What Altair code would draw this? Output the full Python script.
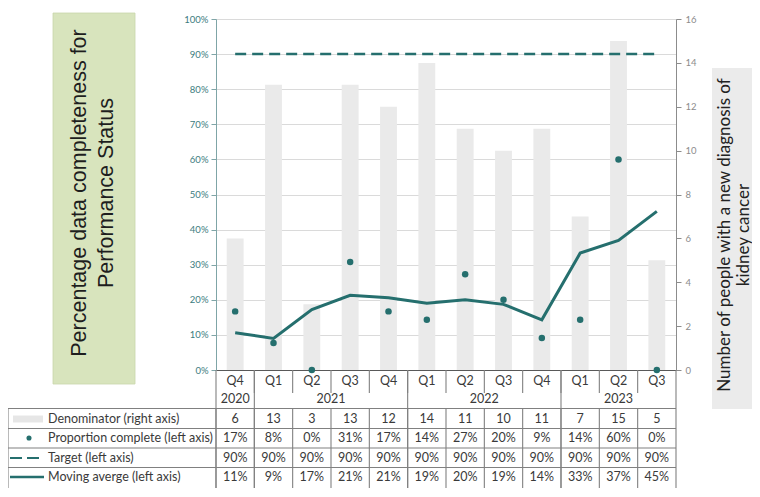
import altair as alt
import pandas as pd

# ---------------- data ----------------
quarters = ["Q4", "Q1", "Q2", "Q3", "Q4", "Q1", "Q2", "Q3", "Q4", "Q1", "Q2", "Q3"]
years = ["2020", "2021", "2021", "2021", "2021", "2022", "2022", "2022", "2022", "2023", "2023", "2023"]
denominator = [6, 13, 3, 13, 12, 14, 11, 10, 11, 7, 15, 5]
proportion = [0.167, 0.077, 0.0, 0.308, 0.167, 0.143, 0.273, 0.200, 0.091, 0.143, 0.600, 0.0]
target = [0.9, 0.9, 0.9, 0.9, 0.9, 0.9, 0.9, 0.9, 0.9, 0.9, 0.9, 0.9]
moving_avg = [0.106, 0.090, 0.172, 0.213, 0.206, 0.190, 0.200, 0.187, 0.143, 0.333, 0.369, 0.452]
row_labels = ["Denominator (right axis)", "Proportion complete (left axis)",
              "Target (left axis)", "Moving averge (left axis)"]
left_title = ["Percentage data completeness for", "Performance Status"]
right_title = ["Number of people with a new diagnosis of", "kidney cancer"]

keys = [f"{y} {q}" for y, q in zip(years, quarters)]
df = pd.DataFrame({"key": keys, "quarter": quarters, "year": years,
                   "denom": denominator, "prop": proportion,
                   "target": target, "mavg": moving_avg})

# year label anchors (centre of each year's span)
year_odd, year_even = [], []
for yv in dict.fromkeys(years):
    idxs = [i for i, v in enumerate(years) if v == yv]
    n = len(idxs)
    if n % 2 == 1:
        year_odd.append({"key": keys[idxs[n // 2]], "year": yv})
    else:
        year_even.append({"key": keys[idxs[n // 2]], "year": yv})
year_odd = pd.DataFrame(year_odd)
year_even = pd.DataFrame(year_even)
year_bounds = pd.DataFrame({"key": [keys[i] for i in range(1, len(keys)) if years[i] != years[i - 1]]})
all_bounds = pd.DataFrame({"key": keys})
inner_bounds = pd.DataFrame({"key": keys[1:]})
last_key = pd.DataFrame({"key": [keys[-1]]})
first_key = pd.DataFrame({"key": [keys[0]]})
dummy = pd.DataFrame({"d": [0]})

# ---------------- style ----------------
TEAL = "#256f6e"
FONT = "Lato"
TXT = "#3a3a3a"
LINEC = "#808080"
W, H = 460, 351

xscale = alt.Scale(domain=keys, paddingInner=0, paddingOuter=0)
xaxis = alt.Axis(labels=False, ticks=False, title=None, grid=False,
                 domainColor="#595959", domainWidth=1.2)


def X(bp=None):
    if bp is None:
        return alt.X("key:N", scale=xscale, axis=xaxis)
    return alt.X("key:N", scale=xscale, axis=xaxis, bandPosition=bp)


pct_scale = alt.Scale(domain=[0, 1], nice=False)
left_axis = alt.Axis(orient="left", format=".0%", values=[i / 10 for i in range(11)],
                     grid=True, gridColor="#dadada", gridWidth=1,
                     domainColor="#7fa5a7", tickColor="#7fa5a7", tickSize=5,
                     labelColor="#3d7c80", labelFontSize=9.5, labelFont=FONT,
                     labelPadding=3, title=None)
right_axis = alt.Axis(orient="right", values=list(range(0, 17, 2)), grid=False,
                      domainColor="#8c8c8c", tickColor="#8c8c8c", tickSize=5,
                      labelColor="#8c8c8c", labelFontSize=9.5, labelFont=FONT,
                      labelPadding=4, title=None)

# ---------------- main plot ----------------
bars = alt.Chart(df).mark_bar(color="#eaeaea", width={"band": 0.44}).encode(
    x=X(),
    y=alt.Y("denom:Q", scale=alt.Scale(domain=[0, 16], nice=False), axis=right_axis),
)

target_line = alt.Chart(df).mark_line(color=TEAL, strokeWidth=2.5, strokeDash=[11, 6]).encode(
    x=X(), y=alt.Y("target:Q", scale=pct_scale, axis=left_axis))
mavg_line = alt.Chart(df).mark_line(color=TEAL, strokeWidth=3).encode(
    x=X(), y=alt.Y("mavg:Q", scale=pct_scale, axis=left_axis))
points = alt.Chart(df).mark_circle(color=TEAL, size=42, opacity=1).encode(
    x=X(), y=alt.Y("prop:Q", scale=pct_scale, axis=left_axis))
pct = alt.layer(target_line, mavg_line, points)

# ---------------- table / category labels ----------------
Q_Y, YEAR_Y = 362, 380
ROW_LINES = [389.5, 409.5, 429, 448.5]
ROW_END = 469
ROW_TEXT = [400, 419, 439, 458]
LEFT_X = -208

txt = dict(font=FONT, fontSize=12.5, color=TXT, baseline="middle", align="center")

q_text = alt.Chart(df).mark_text(**txt).encode(x=X(), y=alt.value(Q_Y), text="quarter:N")
yr_odd = alt.Chart(year_odd).mark_text(**txt).encode(x=X(), y=alt.value(YEAR_Y), text="year:N")
yr_even = alt.Chart(year_even).mark_text(**txt).encode(x=X(0), y=alt.value(YEAR_Y), text="year:N")

den_text = alt.Chart(df).mark_text(**txt).encode(x=X(), y=alt.value(ROW_TEXT[0]),
                                                 text=alt.Text("denom:Q", format="d"))
prop_text = alt.Chart(df).mark_text(**txt).encode(x=X(), y=alt.value(ROW_TEXT[1]),
                                                  text=alt.Text("prop:Q", format=".0%"))
tgt_text = alt.Chart(df).mark_text(**txt).encode(x=X(), y=alt.value(ROW_TEXT[2]),
                                                 text=alt.Text("target:Q", format=".0%"))
mavg_text = alt.Chart(df).mark_text(**txt).encode(x=X(), y=alt.value(ROW_TEXT[3]),
                                                  text=alt.Text("mavg:Q", format=".0%"))

rule_style = dict(color=LINEC, strokeWidth=1.1)
q_sep = alt.Chart(inner_bounds).mark_rule(**rule_style).encode(
    x=X(0), y=alt.value(H), y2=alt.value(374))
col_sep = alt.Chart(all_bounds).mark_rule(**rule_style).encode(
    x=X(0), y=alt.value(ROW_LINES[0]), y2=alt.value(ROW_END))
yr_sep = alt.Chart(year_bounds).mark_rule(**rule_style).encode(
    x=X(0), y=alt.value(H), y2=alt.value(ROW_END))
left_border = alt.Chart(first_key).mark_rule(**rule_style).encode(
    x=X(0), y=alt.value(H), y2=alt.value(ROW_END))
right_border = alt.Chart(last_key).mark_rule(**rule_style).encode(
    x=X(1), y=alt.value(H), y2=alt.value(ROW_END))
h_lines = [
    alt.Chart(last_key).mark_rule(**rule_style).encode(
        x=X(1), x2=alt.value(LEFT_X), y=alt.value(yv))
    for yv in ROW_LINES
]
outer_left = alt.Chart(dummy).mark_rule(**rule_style).encode(
    x=alt.value(LEFT_X), y=alt.value(ROW_LINES[0]), y2=alt.value(ROW_END))

lbl_layers = [
    alt.Chart(dummy).mark_text(font=FONT, fontSize=12.5, color=TXT, baseline="middle", align="left").encode(
        x=alt.value(-168), y=alt.value(yv), text=alt.value(lbl))
    for lbl, yv in zip(row_labels, ROW_TEXT)
]
g_bar = alt.Chart(dummy).mark_rect(color="#e6e6e6").encode(
    x=alt.value(-203), x2=alt.value(-173), y=alt.value(ROW_TEXT[0] - 3.5), y2=alt.value(ROW_TEXT[0] + 3.5))
g_dot = alt.Chart(dummy).mark_circle(color=TEAL, size=26, opacity=1).encode(
    x=alt.value(-187), y=alt.value(ROW_TEXT[1]))
g_dash = alt.Chart(dummy).mark_rule(color=TEAL, strokeWidth=2, strokeDash=[12, 5]).encode(
    x=alt.value(-206), x2=alt.value(-172), y=alt.value(ROW_TEXT[2]))
g_line = alt.Chart(dummy).mark_rule(color=TEAL, strokeWidth=2.5).encode(
    x=alt.value(-206), x2=alt.value(-172), y=alt.value(ROW_TEXT[3]))

# ---------------- side titles ----------------
lbox = alt.Chart(dummy).mark_rect(color="#d8e4bd", stroke="#c9d6ab", strokeWidth=0.8).encode(
    x=alt.value(-163), x2=alt.value(-81), y=alt.value(-6), y2=alt.value(365))
ltext = alt.Chart(dummy).mark_text(font="Liberation Sans", fontSize=21.5, color="#1e1e1e",
                                   angle=270, baseline="middle", align="center", lineHeight=27).encode(
    x=alt.value(-136), y=alt.value(174), text=alt.value(left_title))
rbox = alt.Chart(dummy).mark_rect(color="#ebebeb").encode(
    x=alt.value(496), x2=alt.value(540), y=alt.value(49), y2=alt.value(390))
rtext = alt.Chart(dummy).mark_text(font=FONT, fontSize=17, color="#222222",
                                   angle=270, baseline="middle", align="center", lineHeight=18.5).encode(
    x=alt.value(509), y=alt.value(216), text=alt.value(right_title))

chart = alt.layer(
    bars, pct,
    q_sep, col_sep, yr_sep, left_border, right_border, outer_left, *h_lines,
    q_text, yr_odd, yr_even, den_text, prop_text, tgt_text, mavg_text,
    *lbl_layers, g_bar, g_dot, g_dash, g_line,
    lbox, ltext, rbox, rtext,
).resolve_scale(y="independent").properties(
    width=W, height=H,
    autosize=alt.AutoSizeParams(type="none"),
    padding={"left": 208, "top": 11, "right": 76, "bottom": 118},
).configure_view(stroke=None).configure(background="white")

chart.save("out.html", embed_options={"renderer": "svg", "actions": False})
